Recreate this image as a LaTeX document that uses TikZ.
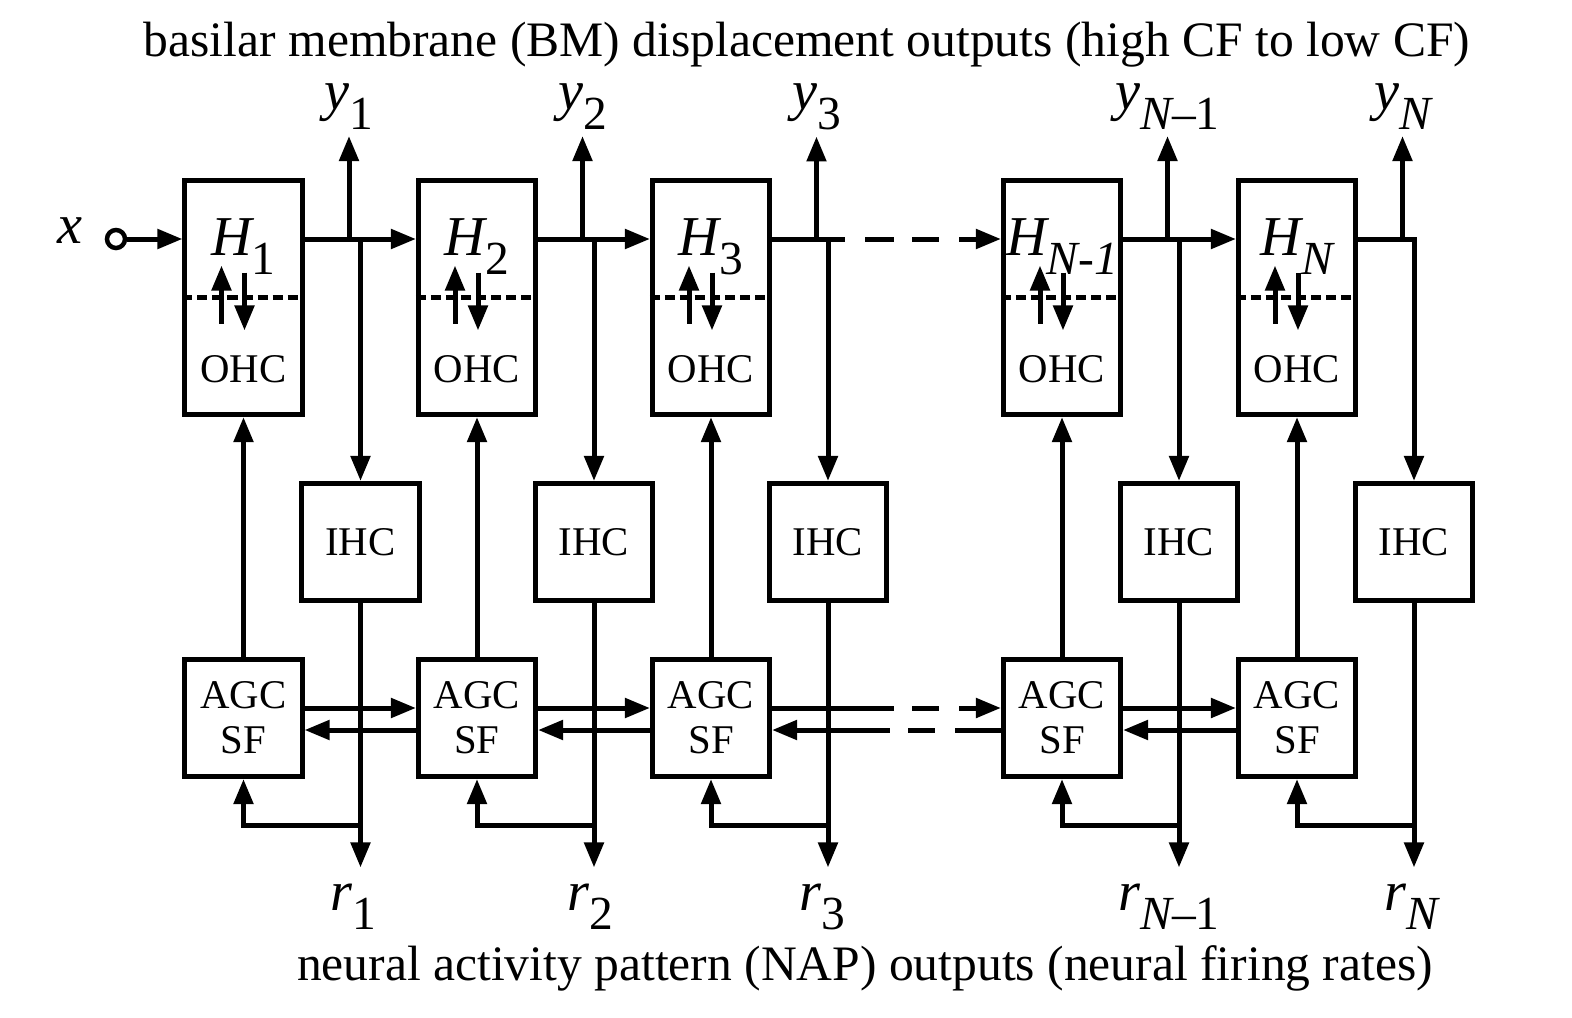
\documentclass[tikz,border=0pt]{standalone}
\usepackage{fontspec}
\setmainfont{Liberation Serif}
\usetikzlibrary{arrows.meta, positioning}

% lowered subscript in text fonts
\newcommand{\sbs}[1]{\raisebox{-0.19cm}{\fontsize{13.5}{14}\selectfont #1}}

\begin{document}
\begin{tikzpicture}[
  x=0.01cm, y=-0.01cm,
  hbox/.style={draw, line width=0.05cm, minimum width=1.17cm,
               minimum height=2.34cm, inner sep=0pt},
  cellbox/.style={draw, line width=0.05cm, minimum width=1.17cm,
                  minimum height=1.17cm, inner sep=0pt, align=center,
                  font=\fontsize{11.6}{12.8}\selectfont},
  boxtxt/.style={font=\fontsize{11.6}{12.8}\selectfont, inner sep=0pt, anchor=base},
  mlbl/.style={font=\fontsize{16}{18}\selectfont, inner sep=0pt, anchor=base},
  ylbl/.style={mlbl, outer sep=0.07cm},
  rlbl/.style={mlbl, outer sep=0.16cm},
  ttl/.style={font=\fontsize{14.1}{16}\selectfont, inner sep=0pt, anchor=base},
  port/.style={draw, circle, line width=0.045cm, minimum size=0.18cm, inner sep=0pt},
  wire/.style={line width=0.05cm},
  conn/.style={wire, -{Triangle[length=0.25cm, width=0.19cm]}},
  dline/.style={wire, dash pattern=on 0.1cm off 0.05cm}
]
\useasboundingbox (0,0) rectangle (1572,1018);

% Rows
\coordinate (sig)  at (0,239);
\coordinate (hrow) at (0,255);
\coordinate (orow) at (0,382);
\coordinate (agr)  at (0,708);
\coordinate (agl)  at (0,730);
\coordinate (fb)   at (0,825);

% Titles
\node[ttl] (toptitle) at (807,57) {basilar membrane (BM) displacement outputs (high CF to low CF)};
\node[ttl] (bottitle) at (865,980) {neural activity pattern (NAP) outputs (neural firing rates)};

% Input
\node[mlbl] (xlbl) at (70,243) {\itshape x};
\node[port] (xin)  at (116,239) {};

% Cascade sections
\node[hbox] (h1) at (243.5,297.5) {};
\node[hbox] (h2) at (477,297.5) {};
\node[hbox] (h3) at (711,297.5) {};
\node[hbox] (h4) at (1062,297.5) {};
\node[hbox] (h5) at (1297,297.5) {};

\node[mlbl] at (h1 |- hrow) {{\itshape H}\sbs{1}};
\node[mlbl] at (h2 |- hrow) {{\itshape H}\sbs{2}};
\node[mlbl] at (h3 |- hrow) {{\itshape H}\sbs{3}};
\node[mlbl] at (h4 |- hrow) {{\itshape H}\sbs{\itshape N-1}};
\node[mlbl] at (h5 |- hrow) {{\itshape H}\sbs{\itshape N}};

\node[boxtxt] at (h1 |- orow) {OHC};
\node[boxtxt] at (h2 |- orow) {OHC};
\node[boxtxt] at (h3 |- orow) {OHC};
\node[boxtxt] at (h4 |- orow) {OHC};
\node[boxtxt] at (h5 |- orow) {OHC};

% Hair cells and gain control
\node[cellbox] (ihc1) at (360.5,542) {IHC};
\node[cellbox] (ihc2) at (594,542) {IHC};
\node[cellbox] (ihc3) at (828,542) {IHC};
\node[cellbox] (ihc4) at (1179,542) {IHC};
\node[cellbox] (ihc5) at (1414,542) {IHC};

\node[cellbox] (agc1) at (243.5,718) {AGC\\SF};
\node[cellbox] (agc2) at (477,718) {AGC\\SF};
\node[cellbox] (agc3) at (711,718) {AGC\\SF};
\node[cellbox] (agc4) at (1062,718) {AGC\\SF};
\node[cellbox] (agc5) at (1297,718) {AGC\\SF};

% Output labels
\node[ylbl] (y1) at (349,110) {{\itshape y}\sbs{1}};
\node[ylbl] (y2) at (582.5,110) {{\itshape y}\sbs{2}};
\node[ylbl] (y3) at (816.5,110) {{\itshape y}\sbs{3}};
\node[ylbl] (y4) at (1167.5,110) {{\itshape y}\sbs{{\itshape N}\textendash1}};
\node[ylbl] (y5) at (1402.5,110) {{\itshape y}\sbs{\itshape N}};

\node[rlbl] (r1) at (353,910) {{\itshape r}\sbs{1}};
\node[rlbl] (r2) at (590,910) {{\itshape r}\sbs{2}};
\node[rlbl] (r3) at (822,910) {{\itshape r}\sbs{3}};
\node[rlbl] (r4) at (1169,910) {{\itshape r}\sbs{{\itshape N}\textendash1}};
\node[rlbl] (r5) at (1411,910) {{\itshape r}\sbs{\itshape N}};

% OHC coupling inside sections
\draw[dline] (h1.west) -- (h1.east);
\draw[dline] (h2.west) -- (h2.east);
\draw[dline] (h3.west) -- (h3.east);
\draw[dline] (h4.west) -- (h4.east);
\draw[dline] (h5.west) -- (h5.east);
\draw[conn] ([shift={(-22,26)}]h1.center) -- ++(0,-58);
\draw[conn] ([shift={(1,-25)}]h1.center) -- ++(0,58);
\draw[conn] ([shift={(-22,26)}]h2.center) -- ++(0,-58);
\draw[conn] ([shift={(1,-25)}]h2.center) -- ++(0,58);
\draw[conn] ([shift={(-22,26)}]h3.center) -- ++(0,-58);
\draw[conn] ([shift={(1,-25)}]h3.center) -- ++(0,58);
\draw[conn] ([shift={(-22,26)}]h4.center) -- ++(0,-58);
\draw[conn] ([shift={(1,-25)}]h4.center) -- ++(0,58);
\draw[conn] ([shift={(-22,26)}]h5.center) -- ++(0,-58);
\draw[conn] ([shift={(1,-25)}]h5.center) -- ++(0,58);

% Forward path
\draw[conn] (xin) -- (h1.west |- sig);
\draw[conn] (h1.east |- sig) -- (h2.west |- sig);
\draw[conn] (h2.east |- sig) -- (h3.west |- sig);
\draw[conn, dash pattern=on 0.73cm off 0.2cm on 0.29cm off 0.18cm on 0.27cm off 0.2cm on 0.6cm]
  (h3.east |- sig) -- (h4.west |- sig);
\draw[conn] (h4.east |- sig) -- (h5.west |- sig);
\draw[conn] (h5.east |- sig) -| (ihc5.north);

% BM outputs
\draw[conn] (y1.south |- sig) -- (y1.south);
\draw[conn] (y2.south |- sig) -- (y2.south);
\draw[conn] (y3.south |- sig) -- (y3.south);
\draw[conn] (y4.south |- sig) -- (y4.south);
\draw[conn] (y5.south |- sig) -- (y5.south);

% IHC taps and NAP outputs
\draw[conn] (ihc1.north |- sig) -- (ihc1.north);
\draw[conn] (ihc2.north |- sig) -- (ihc2.north);
\draw[conn] (ihc3.north |- sig) -- (ihc3.north);
\draw[conn] (ihc4.north |- sig) -- (ihc4.north);
\draw[conn] (ihc1.south) -- (ihc1.south |- r1.north);
\draw[conn] (ihc2.south) -- (ihc2.south |- r2.north);
\draw[conn] (ihc3.south) -- (ihc3.south |- r3.north);
\draw[conn] (ihc4.south) -- (ihc4.south |- r4.north);
\draw[conn] (ihc5.south) -- (ihc5.south |- r5.north);

% Feedback to AGC and OHC
\draw[conn] (ihc1.south |- fb) -| (agc1.south);
\draw[conn] (ihc2.south |- fb) -| (agc2.south);
\draw[conn] (ihc3.south |- fb) -| (agc3.south);
\draw[conn] (ihc4.south |- fb) -| (agc4.south);
\draw[conn] (ihc5.south |- fb) -| (agc5.south);
\draw[conn] (agc1.north) -- (h1.south);
\draw[conn] (agc2.north) -- (h2.south);
\draw[conn] (agc3.north) -- (h3.south);
\draw[conn] (agc4.north) -- (h4.south);
\draw[conn] (agc5.north) -- (h5.south);

% AGC smoothing network
\draw[conn] (agc1.east |- agr) -- (agc2.west |- agr);
\draw[conn] (agc2.west |- agl) -- (agc1.east |- agl);
\draw[conn] (agc2.east |- agr) -- (agc3.west |- agr);
\draw[conn] (agc3.west |- agl) -- (agc2.east |- agl);
\draw[conn, dash pattern=on 1.22cm off 0.18cm on 0.27cm off 0.2cm on 0.6cm]
  (agc3.east |- agr) -- (agc4.west |- agr);
\draw[conn, dash pattern=on 0.46cm off 0.2cm on 0.27cm off 0.18cm on 1.5cm]
  (agc4.west |- agl) -- (agc3.east |- agl);
\draw[conn] (agc4.east |- agr) -- (agc5.west |- agr);
\draw[conn] (agc5.west |- agl) -- (agc4.east |- agl);
\end{tikzpicture}
\end{document}
